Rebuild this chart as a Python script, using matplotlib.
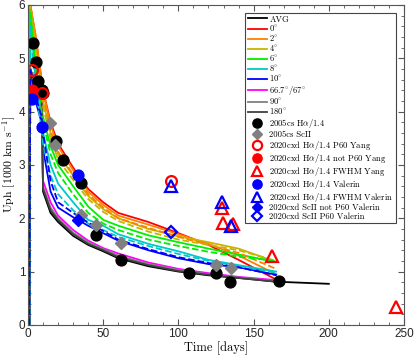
import matplotlib
matplotlib.use('Agg')
import matplotlib.pyplot as plt
from matplotlib.ticker import MultipleLocator

plt.rcParams['mathtext.fontset'] = 'cm'
plt.rcParams['axes.unicode_minus'] = False
plt.rcParams['font.family'] = ['Liberation Sans', 'DejaVu Sans']

# model time grid [days] and photospheric velocities [1000 km/s]
t_mod = [1, 1.5, 5, 9, 10, 15, 20, 30, 40, 50, 60, 80, 100, 120, 140, 165]
t_avg = t_mod + [200]

v_avg = [0, 4.8, 4.5, 4.3, 2.5, 2.1, 1.93, 1.67, 1.5, 1.38, 1.25, 1.1, 1.0, 0.93, 0.88, 0.81, 0.77]
v_0 = [0, 6.0, 5.4, 4.6, 4.4, 3.8, 3.4, 2.95, 2.55, 2.3, 2.1, 1.93, 1.72, 1.5, 1.22, 0.85]
v_2 = [0, 6.0, 5.45, 4.6, 4.4, 3.75, 3.35, 2.9, 2.5, 2.25, 2.05, 1.88, 1.7, 1.52, 1.3, 0.95]
v_4 = [0, 6.0, 5.3, 4.4, 4.2, 3.6, 3.2, 2.8, 2.42, 2.17, 2.0, 1.8, 1.66, 1.55, 1.43, 1.18]
v_6 = [0, 6.0, 4.9, 4.1, 3.9, 3.35, 3.0, 2.6, 2.22, 1.97, 1.86, 1.68, 1.55, 1.43, 1.32, 1.18]
v_8 = [0, 5.8, 4.6, 3.8, 3.6, 3.0, 2.65, 2.3, 1.97, 1.86, 1.7, 1.52, 1.38, 1.22, 1.12, 1.0]
v_10 = [0, 4.8, 4.2, 3.8, 3.3, 2.5, 2.2, 2.02, 1.86, 1.72, 1.58, 1.4, 1.25, 1.14, 1.08, 0.94]
v_67 = [0, 4.8, 4.5, 4.2, 2.7, 2.3, 2.05, 1.78, 1.58, 1.44, 1.34, 1.17, 1.05, 0.97, 0.9, 0.84]
v_90 = [0, 4.8, 4.5, 4.3, 2.6, 2.2, 2.0, 1.73, 1.55, 1.42, 1.3, 1.14, 1.03, 0.95, 0.89, 0.82]
v_180 = [0, 4.8, 4.5, 4.3, 2.55, 2.15, 1.97, 1.7, 1.52, 1.4, 1.27, 1.12, 1.01, 0.94, 0.88, 0.81]

# second model set (dashed)
v_2d = [0, 6.0, 5.4, 4.5, 4.3, 3.65, 3.25, 2.82, 2.45, 2.2, 2.0, 1.82, 1.65, 1.5, 1.35, 1.05]
v_4d = [0, 6.0, 5.2, 4.3, 4.1, 3.5, 3.1, 2.72, 2.36, 2.12, 1.95, 1.75, 1.6, 1.5, 1.4, 1.2]
v_6d = [0, 5.9, 4.8, 4.0, 3.8, 3.2, 2.85, 2.45, 2.1, 1.9, 1.78, 1.6, 1.48, 1.37, 1.28, 1.2]
v_8d = [0, 5.6, 4.4, 3.7, 3.4, 2.8, 2.45, 2.15, 1.9, 1.78, 1.65, 1.48, 1.33, 1.2, 1.1, 0.98]
v_10d = [0, 4.8, 4.3, 3.9, 3.6, 2.7, 2.3, 2.1, 1.92, 1.76, 1.6, 1.42, 1.27, 1.16, 1.08, 0.93]

# observations
t_cs_ha = [3.5, 5, 6.5, 9.3, 10, 18.5, 23, 35, 45, 62, 107, 125, 134, 167]
v_cs_ha = [5.28, 4.94, 4.58, 4.4, 4.35, 3.45, 3.1, 2.66, 1.69, 1.22, 0.97, 0.97, 0.8, 0.82]
t_cs_sc = [14.7, 18, 35, 45, 62, 125, 135]
v_cs_sc = [3.78, 3.38, 2.06, 1.88, 1.54, 1.13, 1.07]
t_y_p60 = [2.5, 9.1, 95]
v_y_p60 = [4.78, 4.35, 2.7]
t_y_np60 = [2.4]
v_y_np60 = [4.41]
t_y_fwhm = [129, 129.5, 136, 162, 245]
v_y_fwhm = [2.19, 1.91, 1.9, 1.3, 0.34]
t_v_ha = [2.4, 9.1, 33]
v_v_ha = [4.23, 3.72, 2.81]
t_v_fwhm = [95, 129, 135]
v_v_fwhm = [2.6, 2.31, 1.86]
t_v_sc_np60 = [33]
v_v_sc_np60 = [1.97]
t_v_sc_p60 = [95.3]
v_v_sc_p60 = [1.74]

fig = plt.figure(figsize=(4.15, 3.57), dpi=100)
ax = fig.add_axes([0.0675, 0.09, 0.906, 0.896])

lw = 1.3
ax.plot(t_avg, v_avg, color='black', lw=lw, label='AVG')
ax.plot(t_mod, v_0, color='#ff0000', lw=lw, label=r'$0^{\circ}$')
ax.plot(t_mod, v_2, color='#ff8000', lw=lw, label=r'$2^{\circ}$')
ax.plot(t_mod, v_4, color='#c8b400', lw=lw, label=r'$4^{\circ}$')
ax.plot(t_mod, v_6, color='#00ee00', lw=lw, label=r'$6^{\circ}$')
ax.plot(t_mod, v_8, color='#00c8c8', lw=lw, label=r'$8^{\circ}$')
ax.plot(t_mod, v_10, color='#0000ff', lw=lw, label=r'$10^{\circ}$')
ax.plot(t_mod, v_67, color='#ff00ff', lw=lw, label=r'$66.7^{\circ}/67^{\circ}$')
ax.plot(t_mod, v_90, color='#808080', lw=lw, label=r'$90^{\circ}$')
ax.plot(t_mod, v_180, color='#404040', lw=lw, label=r'$180^{\circ}$')

ax.plot(t_mod, v_2d, color='#ff8000', lw=lw, ls='--')
ax.plot(t_mod, v_4d, color='#c8b400', lw=lw, ls='--')
ax.plot(t_mod, v_6d, color='#00ee00', lw=lw, ls='--')
ax.plot(t_mod, v_8d, color='#00c8c8', lw=lw, ls='--')
ax.plot(t_mod, v_10d, color='#0000ff', lw=lw, ls='--')

ms = 7.8
mew = 1.6
ax.plot(t_cs_ha, v_cs_ha, 'o', color='black', ms=ms, label=r'2005cs H$\alpha$/1.4')
ax.plot(t_cs_sc, v_cs_sc, 'D', color='#808080', ms=ms - 1.3, label='2005cs ScII')
ax.plot(t_y_p60, v_y_p60, 'o', mfc='none', mec='red', mew=mew, ms=ms,
        label=r'2020cxd H$\alpha$/1.4 P60 Yang')
ax.plot(t_y_np60, v_y_np60, 'o', color='red', ms=ms,
        label=r'2020cxd H$\alpha$/1.4 not P60 Yang')
ax.plot(t_y_fwhm, v_y_fwhm, '^', mfc='none', mec='red', mew=mew, ms=ms + 0.5,
        label=r'2020cxd H$\alpha$/1.4 FWHM Yang')
ax.plot(t_v_ha, v_v_ha, 'o', color='blue', ms=ms,
        label=r'2020cxd H$\alpha$/1.4 Valerin')
ax.plot(t_v_fwhm, v_v_fwhm, '^', mfc='none', mec='blue', mew=mew, ms=ms + 0.5,
        label=r'2020cxd H$\alpha$/1.4 FWHM Valerin')
ax.plot(t_v_sc_np60, v_v_sc_np60, 'D', color='blue', ms=ms - 1.3,
        label='2020cxd ScII not P60 Valerin')
ax.plot(t_v_sc_p60, v_v_sc_p60, 'D', mfc='none', mec='blue', mew=mew, ms=ms - 1.3,
        label='2020cxd ScII P60 Valerin')

ax.set_xlim(0, 250)
ax.set_ylim(0, 6)
ax.xaxis.set_major_locator(MultipleLocator(50))
ax.xaxis.set_minor_locator(MultipleLocator(10))
ax.yaxis.set_major_locator(MultipleLocator(1))
ax.yaxis.set_minor_locator(MultipleLocator(0.2))
ax.tick_params(which='both', direction='in', top=True, right=True,
               color='#555555', labelsize=8.5, pad=2, labelcolor='#262626')
ax.tick_params(which='major', length=4)
ax.tick_params(which='minor', length=2)
for sp in ax.spines.values():
    sp.set_color('#555555')
    sp.set_linewidth(0.8)

ax.set_xlabel('Time [days]', family='cmr10', fontsize=9, labelpad=1)
ax.set_ylabel('Uph [1000 km s$^{-1}$]', family='cmr10', fontsize=8.5)
ax.yaxis.set_label_coords(-0.026, 0.5)

leg = ax.legend(loc='upper right', bbox_to_anchor=(0.99, 0.99),
                prop={'family': 'cmr10', 'size': 6.2},
                labelspacing=0.0, handlelength=2.2, handletextpad=0.3,
                borderpad=0.3, fancybox=False, framealpha=1,
                edgecolor='#444444', markerscale=0.85)
leg.get_frame().set_linewidth(0.8)

fig.savefig('out.png', dpi=100)
